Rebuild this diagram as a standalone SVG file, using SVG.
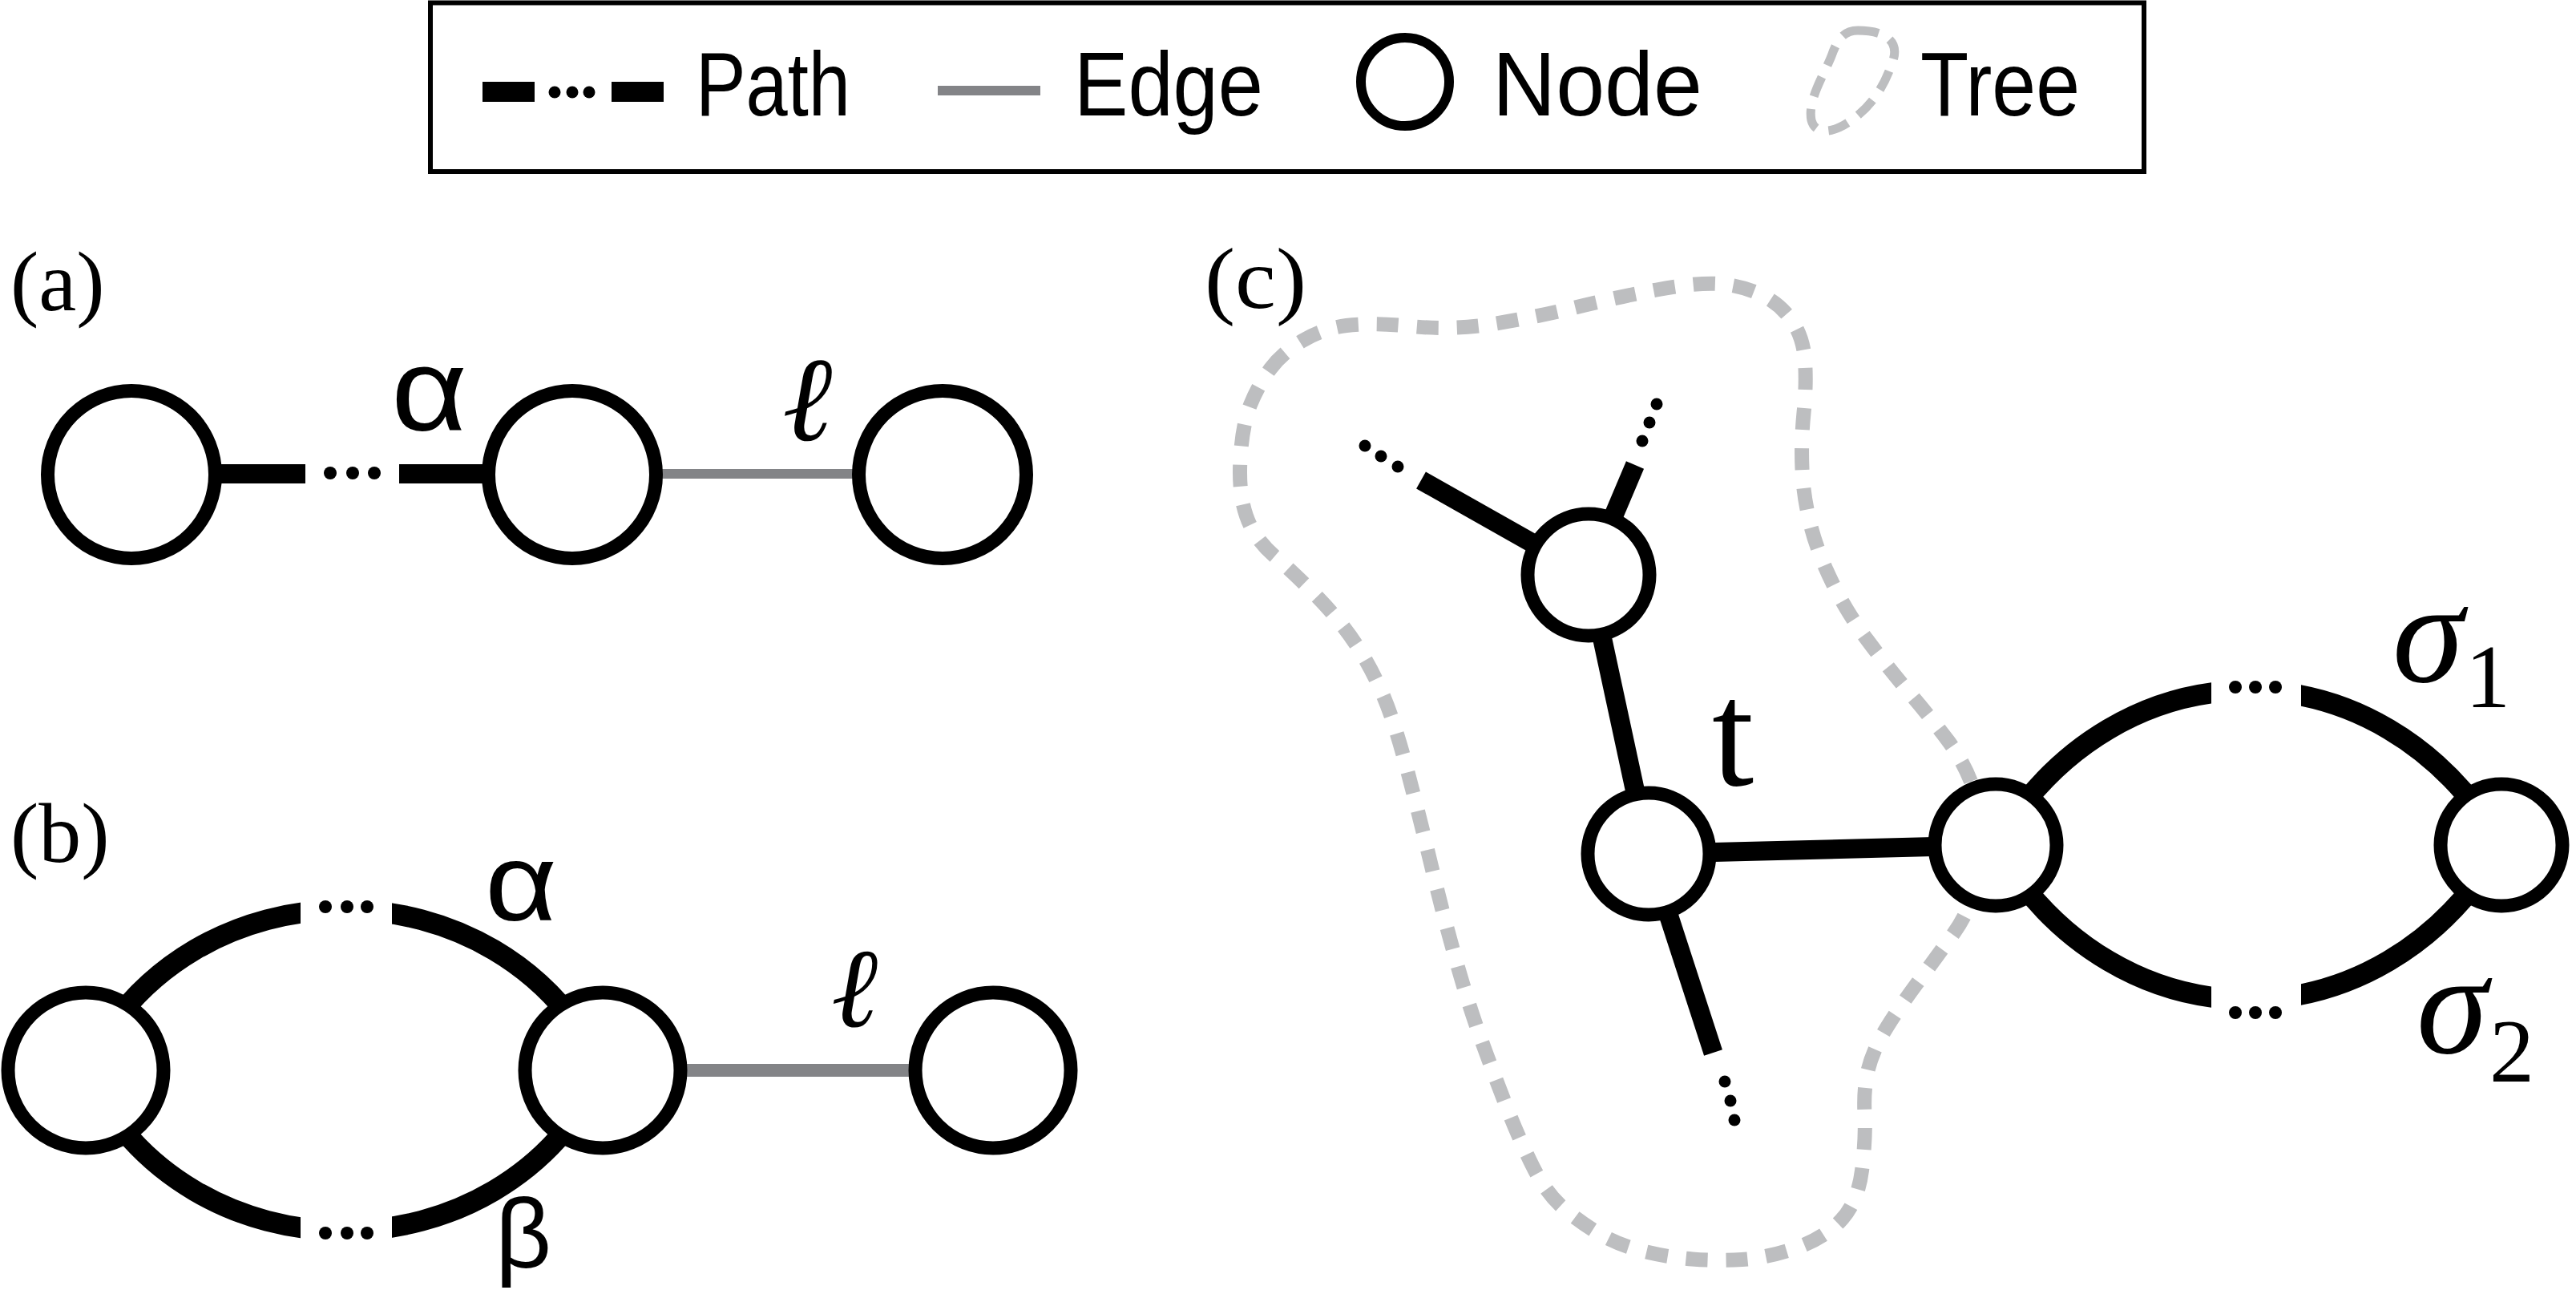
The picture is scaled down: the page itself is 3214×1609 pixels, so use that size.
<svg xmlns="http://www.w3.org/2000/svg" width="3214" height="1609" viewBox="0 0 3214 1609">
<style>
.node{fill:#fff;stroke:#000;stroke-width:17}
.path{fill:none;stroke:#000;stroke-width:24;stroke-linecap:butt}
.arc{fill:none;stroke:#000;stroke-width:26;stroke-linecap:butt}
.edge{fill:none;stroke:#838487;stroke-linecap:butt}
.dot{fill:#000}
.tree{fill:none;stroke:#bdbec0;stroke-width:18;stroke-dasharray:27 23}
.leg{font-family:"Liberation Sans",Arial,sans-serif;font-size:113px;fill:#000}
.pan{font-family:"Liberation Serif","Times New Roman",serif;font-size:106px;fill:#000}
.greek{font-family:"Liberation Sans",Arial,sans-serif;fill:#000}
.math{font-family:"Liberation Serif","Times New Roman",serif;fill:#000}
</style>
<defs>
<clipPath id="gapB"><rect x="0" y="1000" width="375" height="609"/><rect x="489" y="1000" width="500" height="609"/></clipPath>
<clipPath id="gapC"><rect x="2300" y="700" width="459" height="700"/><rect x="2871" y="700" width="343" height="700"/></clipPath>
</defs>
<rect width="3214" height="1609" fill="#fff"/>

<g id="legend">
<rect x="537" y="3.5" width="2138" height="210.5" fill="#fff" stroke="#000" stroke-width="6"/>
<line x1="602" y1="114.5" x2="667" y2="114.5" class="path" style="stroke-width:25"/>
<circle cx="692" cy="115" r="7.5" class="dot"/><circle cx="714" cy="115" r="7.5" class="dot"/><circle cx="735" cy="115" r="7.5" class="dot"/>
<line x1="763" y1="114.5" x2="828" y2="114.5" class="path" style="stroke-width:25"/>
<text x="868" y="144" class="leg" textLength="193" lengthAdjust="spacingAndGlyphs">Path</text>
<line x1="1170" y1="113" x2="1298" y2="113" class="edge" style="stroke-width:12"/>
<text x="1340" y="144" class="leg" textLength="236" lengthAdjust="spacingAndGlyphs">Edge</text>
<circle cx="1753" cy="102" r="55" fill="#fff" stroke="#000" stroke-width="12"/>
<text x="1862" y="144" class="leg" textLength="262" lengthAdjust="spacingAndGlyphs">Node</text>
<path d="M2318,38 C2350,38 2370,50 2362,75 C2352,105 2338,130 2310,150 C2290,165 2265,170 2260,150 C2255,125 2275,95 2285,70 C2292,50 2300,38 2318,38 Z" fill="none" stroke="#bdbec0" stroke-width="11" stroke-dasharray="26 16"/>
<text x="2396" y="144" class="leg" textLength="199" lengthAdjust="spacingAndGlyphs">Tree</text>
</g>

<g id="tree-outline">
<path class="tree" d="M1585,460 Q1600,440 1625,425 Q1650,410 1680,406 Q1710,402 1761,407 Q1812,412 1863,404 Q1914,396 1965,383.5 Q2016,371 2067,361.5 Q2118,352 2145,354 Q2172,356 2196,367 Q2220,378 2235,399 Q2250,420 2252,450 Q2254,480 2250.5,515 Q2247,550 2248.5,585 Q2250,620 2259,655 Q2268,690 2286.5,727.5 Q2305,765 2330,798.5 Q2355,832 2383.5,865.5 Q2412,899 2431,924.5 Q2450,950 2461,980 Q2472,1010 2472,1045 Q2472,1080 2463.5,1110 Q2455,1140 2438,1163.5 Q2421,1187 2391.5,1227 Q2362,1267 2348.5,1291 Q2335,1315 2330,1337.5 Q2325,1360 2326.5,1390 Q2328,1420 2323,1460 Q2318,1500 2296.5,1522.5 Q2275,1545 2239.5,1557 Q2204,1569 2173.5,1571 Q2143,1573 2111.5,1570.5 Q2080,1568 2050,1560.5 Q2020,1553 1997.5,1540 Q1975,1527 1952.5,1508.5 Q1930,1490 1912.5,1455 Q1895,1420 1877.5,1375 Q1860,1330 1846,1291 Q1832,1252 1816.5,1197.5 Q1801,1143 1786,1080.5 Q1771,1018 1755.5,959.5 Q1740,901 1726,868 Q1712,835 1693,805.5 Q1674,776 1644.5,745.5 Q1615,715 1590,693.5 Q1565,672 1555,643.5 Q1545,615 1547.5,572.5 Q1550,530 1560,505 Q1570,480 1585,460 Z"/>
</g>

<g id="connectors">
<!-- (a) -->
<line x1="164" y1="591" x2="381" y2="591" class="path"/>
<circle cx="412" cy="590" r="8" class="dot"/><circle cx="440" cy="590" r="8" class="dot"/><circle cx="467" cy="590" r="8" class="dot"/>
<line x1="498" y1="591" x2="714" y2="591" class="path"/>
<line x1="714" y1="591" x2="1176" y2="591" class="edge" style="stroke-width:12"/>
<!-- (b) -->
<path class="arc" clip-path="url(#gapB)" d="M107,1335 C232,1068 627,1068 752,1335"/>
<path class="arc" clip-path="url(#gapB)" d="M107,1335 C232,1602 627,1602 752,1335"/>
<circle cx="406" cy="1131" r="8" class="dot"/><circle cx="433" cy="1131" r="8" class="dot"/><circle cx="458" cy="1131" r="8" class="dot"/>
<circle cx="406" cy="1538" r="8" class="dot"/><circle cx="433" cy="1538" r="8" class="dot"/><circle cx="458" cy="1538" r="8" class="dot"/>
<line x1="752" y1="1335" x2="1239" y2="1335" class="edge" style="stroke-width:16"/>
<!-- (c) -->
<line x1="1773" y1="599" x2="1982" y2="717" class="path"/>
<circle cx="1703" cy="556" r="7.5" class="dot"/><circle cx="1723" cy="569" r="7.5" class="dot"/><circle cx="1744" cy="582" r="7.5" class="dot"/>
<line x1="2040" y1="580" x2="1982" y2="717" class="path"/>
<circle cx="2067" cy="504" r="7.5" class="dot"/><circle cx="2058" cy="527" r="7.5" class="dot"/><circle cx="2049" cy="550" r="7.5" class="dot"/>
<line x1="1982" y1="717" x2="2057" y2="1065" class="path"/>
<line x1="2057" y1="1065" x2="2137.5" y2="1313" class="path"/>
<circle cx="2152" cy="1349" r="7.5" class="dot"/><circle cx="2159" cy="1373" r="7.5" class="dot"/><circle cx="2164" cy="1397" r="7.5" class="dot"/>
<line x1="2057" y1="1065" x2="2490" y2="1054" class="path"/>
<path class="arc" clip-path="url(#gapC)" d="M2490,1054 C2640,797 2971,797 3121,1054"/>
<path class="arc" clip-path="url(#gapC)" d="M2490,1054 C2640,1311 2971,1311 3121,1054"/>
<circle cx="2789" cy="857" r="8" class="dot"/><circle cx="2814" cy="857" r="8" class="dot"/><circle cx="2839" cy="857" r="8" class="dot"/>
<circle cx="2789" cy="1263" r="8" class="dot"/><circle cx="2814" cy="1263" r="8" class="dot"/><circle cx="2839" cy="1263" r="8" class="dot"/>
</g>

<g id="a-n1"><circle cx="164" cy="592" r="104.5" class="node"/></g>
<g id="a-n2"><circle cx="714" cy="592" r="104.5" class="node"/></g>
<g id="a-n3"><circle cx="1176" cy="592" r="104.5" class="node"/></g>
<g id="b-n1"><circle cx="107" cy="1335" r="97" class="node"/></g>
<g id="b-n2"><circle cx="752" cy="1335" r="97" class="node"/></g>
<g id="b-n3"><circle cx="1239" cy="1335" r="97" class="node"/></g>
<g id="c-nA"><circle cx="1982" cy="717" r="76" class="node"/></g>
<g id="c-nB"><circle cx="2057" cy="1065" r="76" class="node"/></g>
<g id="c-nC"><circle cx="2490" cy="1054" r="76" class="node"/></g>
<g id="c-nD"><circle cx="3121" cy="1054" r="76" class="node"/></g>

<g id="labels">
<text x="13" y="387" class="pan">(a)</text>
<text x="13" y="1075" class="pan">(b)</text>
<text x="1503" y="384" class="pan" style="font-size:108px" textLength="127" lengthAdjust="spacingAndGlyphs">(c)</text>
<text x="488" y="537" class="greek" style="font-size:146px" textLength="95" lengthAdjust="spacingAndGlyphs">α</text>
<text x="976" y="549" class="math" style="font-size:150px;font-style:italic">ℓ</text>
<text x="605" y="1148" class="greek" style="font-size:138px" textLength="90" lengthAdjust="spacingAndGlyphs">α</text>
<text x="1037" y="1280" class="math" style="font-size:140px;font-style:italic">ℓ</text>
<text x="618" y="1581" class="greek" style="font-size:122px">β</text>
<text x="2136" y="979" class="math" style="font-size:188px">t</text>
<text class="math"><tspan x="2985" y="850" style="font-size:180px;font-style:italic">σ</tspan><tspan x="3076" y="882" style="font-size:112px">1</tspan></text>
<text class="math"><tspan x="3015" y="1313" style="font-size:180px;font-style:italic">σ</tspan><tspan x="3106" y="1349" style="font-size:112px">2</tspan></text>
</g>
</svg>
